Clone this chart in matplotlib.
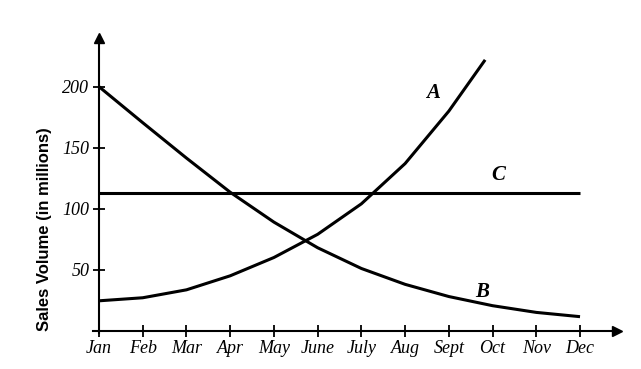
import matplotlib.pyplot as plt

months = ['Jan', 'Feb', 'Mar', 'Apr', 'May', 'June', 'July', 'Aug', 'Sept', 'Oct', 'Nov', 'Dec']
month_pos = list(range(12))

# series A stops where it runs off the top (a bit before Oct)
a_x = [0, 1, 2, 3, 4, 5, 6, 7, 8, 8.83]
a_vals = [24.5, 27, 33.5, 45, 60, 79, 104, 137, 180, 222]
b_vals = [200, 170.5, 141.5, 113.5, 89, 68, 51, 38, 28, 20.5, 15, 11.5]
c_vals = [113] * 12

y_ticks = [50, 100, 150, 200]

plt.rcParams['font.family'] = ['Liberation Serif', 'DejaVu Serif']

fig = plt.figure(figsize=(6.41, 3.69), dpi=100)
W, H = 641, 369
px_month = 43.73
px_unit = 1.22
x0, x1 = -0.3, 12.2
y0, y1 = -5, 250
ax = fig.add_axes([(99 + x0 * px_month) / W, (H - 330.7 - (-y0) * px_unit) / H,
                   (x1 - x0) * px_month / W, (y1 - y0) * px_unit / H])
ax.set_xlim(x0, x1)
ax.set_ylim(y0, y1)

lw = 2.2
ax.plot(a_x, a_vals, color='black', lw=lw, solid_capstyle='butt')
ax.plot(month_pos, b_vals, color='black', lw=lw, solid_capstyle='butt')
ax.plot(month_pos, c_vals, color='black', lw=lw, solid_capstyle='butt')

# axes with arrows
for s in ['top', 'right']:
    ax.spines[s].set_visible(False)
ax.spines['left'].set_position(('data', 0))
ax.spines['bottom'].set_position(('data', 0))
ax.spines['left'].set_bounds(-2, 238)
ax.spines['bottom'].set_bounds(-0.13, 11.8)
ax.spines['left'].set_linewidth(1.5)
ax.spines['bottom'].set_linewidth(1.5)
ax.plot(0, 240, '^k', ms=7, clip_on=False)
ax.plot(11.85, 0, '>k', ms=7, clip_on=False)

ax.set_xticks(month_pos)
ax.set_xticklabels(months, style='italic', fontsize=13)
ax.set_yticks(y_ticks)
ax.set_yticklabels([str(v) for v in y_ticks], style='italic', fontsize=13)
ax.tick_params(direction='inout', length=8, width=1.3)
ax.tick_params(axis='x', pad=3)
ax.tick_params(axis='y', pad=3)

fig.text(45 / W, 1 - 229 / H, 'Sales Volume (in millions)', rotation=90,
         ha='center', va='center', fontsize=12, weight='bold',
         family=['Liberation Sans', 'DejaVu Sans'])

ax.text(7.64, 195, 'A', fontsize=15, style='italic', weight='bold', ha='center', va='center')
ax.text(8.75, 32, 'B', fontsize=15, style='italic', weight='bold', ha='center', va='center')
ax.text(9.13, 127.6, 'C', fontsize=15, style='italic', weight='bold', ha='center', va='center')

fig.savefig('out.png', dpi=100)
